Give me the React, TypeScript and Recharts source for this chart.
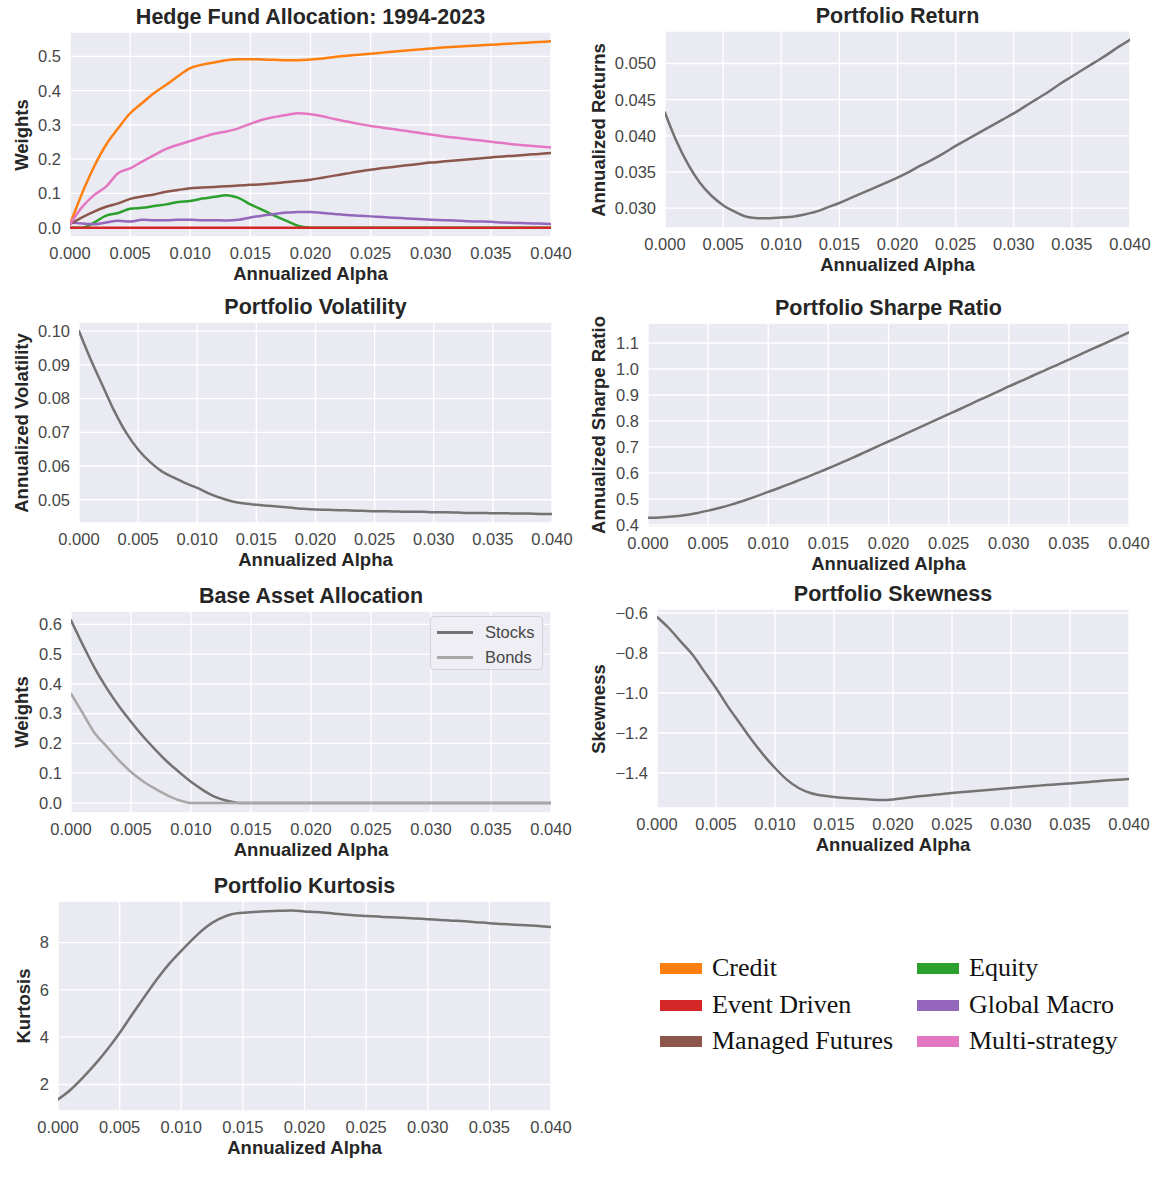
import React from 'react';
import { LineChart, Line, XAxis, YAxis, CartesianGrid } from 'recharts';

// ---------- data ----------
const ALPHA = [0.000, 0.001, 0.002, 0.003, 0.004, 0.005, 0.006, 0.007, 0.008, 0.009, 0.010,
  0.011, 0.012, 0.013, 0.014, 0.015, 0.016, 0.017, 0.018, 0.019, 0.020,
  0.021, 0.022, 0.023, 0.024, 0.025, 0.026, 0.027, 0.028, 0.029, 0.030,
  0.031, 0.032, 0.033, 0.034, 0.035, 0.036, 0.037, 0.038, 0.039, 0.040];

const X_TICKS = [0, 0.005, 0.01, 0.015, 0.02, 0.025, 0.03, 0.035, 0.04];

const CREDIT = [0.01, 0.10, 0.178, 0.242, 0.29, 0.334, 0.364, 0.393, 0.417, 0.443, 0.466,
  0.476, 0.482, 0.489, 0.492, 0.492, 0.491, 0.490, 0.489, 0.489, 0.491,
  0.494, 0.498, 0.502, 0.505, 0.508, 0.511, 0.514, 0.517, 0.520, 0.523,
  0.526, 0.528, 0.530, 0.532, 0.534, 0.536, 0.538, 0.540, 0.542, 0.544];
const EQUITY = [0, 0, 0.015, 0.035, 0.043, 0.055, 0.058, 0.063, 0.068, 0.075, 0.078,
  0.085, 0.09, 0.095, 0.087, 0.068, 0.052, 0.035, 0.02, 0.005, 0,
  0, 0, 0, 0, 0, 0, 0, 0, 0, 0,
  0, 0, 0, 0, 0, 0, 0, 0, 0, 0];
const EVENT_DRIVEN = [0, 0, 0, 0, 0, 0, 0, 0, 0, 0, 0,
  0, 0, 0, 0, 0, 0, 0, 0, 0, 0,
  0, 0, 0, 0, 0, 0, 0, 0, 0, 0,
  0, 0, 0, 0, 0, 0, 0, 0, 0, 0];
const GLOBAL_MACRO = [0.015, 0.012, 0.01, 0.015, 0.02, 0.018, 0.023, 0.022, 0.022, 0.023, 0.023,
  0.022, 0.022, 0.021, 0.023, 0.03, 0.035, 0.04, 0.044, 0.046, 0.046,
  0.043, 0.04, 0.037, 0.035, 0.033, 0.031, 0.029, 0.027, 0.025, 0.023,
  0.022, 0.021, 0.019, 0.018, 0.017, 0.015, 0.014, 0.013, 0.012, 0.011];
const MANAGED_FUTURES = [0.01, 0.03, 0.047, 0.061, 0.071, 0.084, 0.091, 0.097, 0.105, 0.11, 0.115,
  0.117, 0.119, 0.121, 0.123, 0.125, 0.127, 0.13, 0.133, 0.136, 0.14,
  0.146, 0.152, 0.158, 0.164, 0.169, 0.174, 0.178, 0.182, 0.186, 0.19,
  0.193, 0.196, 0.199, 0.202, 0.205, 0.208, 0.21, 0.213, 0.215, 0.218];
const MULTI_STRATEGY = [0.01, 0.06, 0.095, 0.12, 0.159, 0.173, 0.193, 0.212, 0.23, 0.242, 0.253,
  0.264, 0.274, 0.281, 0.29, 0.303, 0.315, 0.323, 0.329, 0.334, 0.331,
  0.325, 0.317, 0.31, 0.303, 0.297, 0.292, 0.287, 0.282, 0.277, 0.272,
  0.267, 0.263, 0.259, 0.255, 0.251, 0.247, 0.243, 0.24, 0.237, 0.234];

const RETURNS = [0.0432, 0.0392, 0.036, 0.0335, 0.0317, 0.0304, 0.0295, 0.0288, 0.0286, 0.0286, 0.0287,
  0.0288, 0.0291, 0.0295, 0.0301, 0.0307, 0.0314, 0.0321, 0.0328, 0.0335, 0.0342,
  0.035, 0.0359, 0.0367, 0.0376, 0.0386, 0.0395, 0.0404, 0.0413, 0.0422, 0.0431,
  0.0441, 0.0451, 0.0461, 0.0472, 0.0482, 0.0492, 0.0502, 0.0512, 0.0523, 0.0533];
const VOLATILITY = [0.100, 0.0915, 0.0838, 0.0762, 0.0698, 0.0649, 0.0612, 0.0584, 0.0566, 0.0549, 0.0535,
  0.0518, 0.0505, 0.0495, 0.0489, 0.0485, 0.0482, 0.0479, 0.0476, 0.0473, 0.0471,
  0.047, 0.0469, 0.0468, 0.0467, 0.0466, 0.0466, 0.0465, 0.0464, 0.0464, 0.0463,
  0.0463, 0.0462, 0.0461, 0.0461, 0.046, 0.046, 0.0459, 0.0459, 0.0458, 0.0458];
const SHARPE = [0.428, 0.429, 0.432, 0.437, 0.445, 0.455, 0.466, 0.479, 0.494, 0.51, 0.527,
  0.544, 0.562, 0.58, 0.599, 0.618, 0.638, 0.658, 0.679, 0.7, 0.721,
  0.742, 0.763, 0.784, 0.805, 0.826, 0.847, 0.869, 0.89, 0.911, 0.933,
  0.953, 0.974, 0.995, 1.015, 1.036, 1.057, 1.078, 1.099, 1.12, 1.141];
const STOCKS = [0.614, 0.53, 0.451, 0.384, 0.325, 0.273, 0.224, 0.18, 0.139, 0.104, 0.071,
  0.043, 0.02, 0.007, 0, 0, 0, 0, 0, 0, 0,
  0, 0, 0, 0, 0, 0, 0, 0, 0, 0,
  0, 0, 0, 0, 0, 0, 0, 0, 0, 0];
const BONDS = [0.367, 0.3, 0.233, 0.188, 0.143, 0.104, 0.073, 0.048, 0.026, 0.009, 0,
  0, 0, 0, 0, 0, 0, 0, 0, 0, 0,
  0, 0, 0, 0, 0, 0, 0, 0, 0, 0,
  0, 0, 0, 0, 0, 0, 0, 0, 0, 0];
const SKEWNESS = [-0.62, -0.675, -0.742, -0.808, -0.892, -0.975, -1.067, -1.15, -1.233, -1.308, -1.375,
  -1.433, -1.475, -1.5, -1.513, -1.52, -1.525, -1.529, -1.532, -1.535, -1.532,
  -1.525, -1.518, -1.512, -1.506, -1.5, -1.495, -1.49, -1.485, -1.48, -1.475,
  -1.47, -1.465, -1.46, -1.456, -1.452, -1.448, -1.443, -1.438, -1.434, -1.43];
const KURTOSIS = [1.37, 1.77, 2.28, 2.85, 3.48, 4.18, 4.95, 5.7, 6.43, 7.09, 7.65,
  8.18, 8.65, 8.98, 9.19, 9.26, 9.3, 9.33, 9.35, 9.36, 9.32,
  9.29, 9.25, 9.2, 9.16, 9.13, 9.1, 9.07, 9.05, 9.02, 8.99,
  8.96, 8.93, 8.9, 8.86, 8.82, 8.79, 8.76, 8.73, 8.7, 8.66];

const HF_NAMES = ['Credit', 'Equity', 'Event Driven', 'Global Macro', 'Managed Futures', 'Multi-strategy'];
const HF_KEYS = ['credit', 'equity', 'eventDriven', 'globalMacro', 'managedFutures', 'multiStrategy'];
const HF_COLORS = ['#ff7f0e', '#2ca02c', '#d62728', '#9467bd', '#8c564b', '#e377c2'];
const HF_SERIES = [CREDIT, EQUITY, EVENT_DRIVEN, GLOBAL_MACRO, MANAGED_FUTURES, MULTI_STRATEGY];

// ---------- tables ----------
const hfData = ALPHA.map((x, i) => {
  const row: any = { x };
  HF_KEYS.forEach((k, j) => { row[k] = HF_SERIES[j][i]; });
  return row;
});
const single = (arr: number[]) => ALPHA.map((x, i) => ({ x, v: arr[i] }));
const baseData = ALPHA.map((x, i) => ({ x, stocks: STOCKS[i], bonds: BONDS[i] }));

// ---------- style ----------
const FONT = '"Liberation Sans", Arial, Helvetica, sans-serif';
const BG = '#EAEAF2';
const TEXT = '#262626';
const TICK = '#474747';
const GREY = '#737373';
const LIGHT = '#a8a8a8';

const YW = 80;
const PAD_T = 6;
const PAD_R = 34;
const XH = 40;

const fmt = (d: number) => (v: number) => (v < 0 ? '\u2212' : '') + Math.abs(v).toFixed(d);

type LineSpec = { key: string; color: string };
type PanelSpec = {
  title: string;
  ylabel: string;
  left: number; top: number; right: number; bottom: number;
  yDomain: [number, number];
  yTicks: number[];
  yFmt: (v: number) => string;
  data: any[];
  lines: LineSpec[];
};

const PANELS: PanelSpec[] = [
  {
    title: 'Hedge Fund Allocation: 1994-2023', ylabel: 'Weights',
    left: 70, top: 32, right: 551, bottom: 237,
    yDomain: [-0.0272, 0.5712], yTicks: [0, 0.1, 0.2, 0.3, 0.4, 0.5], yFmt: fmt(1),
    data: hfData, lines: HF_KEYS.map((k, j) => ({ key: k, color: HF_COLORS[j] })),
  },
  {
    title: 'Portfolio Return', ylabel: 'Annualized Returns',
    left: 665, top: 31, right: 1130, bottom: 228,
    yDomain: [0.02724, 0.0545], yTicks: [0.03, 0.035, 0.04, 0.045, 0.05], yFmt: fmt(3),
    data: single(RETURNS), lines: [{ key: 'v', color: GREY }],
  },
  {
    title: 'Portfolio Volatility', ylabel: 'Annualized Volatility',
    left: 79, top: 322, right: 552, bottom: 523,
    yDomain: [0.0431, 0.1027], yTicks: [0.05, 0.06, 0.07, 0.08, 0.09, 0.1], yFmt: fmt(2),
    data: single(VOLATILITY), lines: [{ key: 'v', color: GREY }],
  },
  {
    title: 'Portfolio Sharpe Ratio', ylabel: 'Annualized Sharpe Ratio',
    left: 648, top: 323, right: 1129, bottom: 527,
    yDomain: [0.392, 1.177], yTicks: [0.4, 0.5, 0.6, 0.7, 0.8, 0.9, 1.0, 1.1], yFmt: fmt(1),
    data: single(SHARPE), lines: [{ key: 'v', color: GREY }],
  },
  {
    title: 'Base Asset Allocation', ylabel: 'Weights',
    left: 71, top: 611, right: 551, bottom: 813,
    yDomain: [-0.034, 0.645], yTicks: [0, 0.1, 0.2, 0.3, 0.4, 0.5, 0.6], yFmt: fmt(1),
    data: baseData, lines: [{ key: 'stocks', color: GREY }, { key: 'bonds', color: LIGHT }],
  },
  {
    title: 'Portfolio Skewness', ylabel: 'Skewness',
    left: 657, top: 609, right: 1129, bottom: 808,
    yDomain: [-1.575, -0.58], yTicks: [-1.4, -1.2, -1.0, -0.8, -0.6], yFmt: fmt(1),
    data: single(SKEWNESS), lines: [{ key: 'v', color: GREY }],
  },
  {
    title: 'Portfolio Kurtosis', ylabel: 'Kurtosis',
    left: 58, top: 901, right: 551, bottom: 1111,
    yDomain: [0.88, 9.76], yTicks: [2, 4, 6, 8], yFmt: fmt(0),
    data: single(KURTOSIS), lines: [{ key: 'v', color: GREY }],
  },
];

const YLABEL_X = [22, 599, 22, 599, 22, 599, 24];

function Panel({ p, ylx }: { p: PanelSpec; ylx: number }) {
  const pw = p.right - p.left;
  const ph = p.bottom - p.top;
  const cx = (p.left + p.right) / 2;
  const cy = (p.top + p.bottom) / 2;
  return (
    <>
      <div style={{ position: 'absolute', left: p.left - YW, top: p.top - PAD_T }}>
        <LineChart
          width={YW + pw + PAD_R}
          height={PAD_T + ph + XH}
          data={p.data}
          margin={{ top: PAD_T, right: PAD_R, bottom: 0, left: 0 }}
        >
          <CartesianGrid fill={BG} fillOpacity={1} stroke="#ffffff" strokeWidth={1.3} />
          <XAxis
            dataKey="x" type="number" domain={[0, 0.04]} ticks={X_TICKS} interval={0}
            tickFormatter={(v: number) => v.toFixed(3)}
            axisLine={false} tickLine={false} tickSize={0} tickMargin={10} height={XH}
            tick={{ fontSize: 16.5, fill: TICK, fontFamily: FONT }} allowDataOverflow
          />
          <YAxis
            type="number" domain={p.yDomain} ticks={p.yTicks} interval={0}
            tickFormatter={p.yFmt}
            axisLine={false} tickLine={false} tickSize={0} tickMargin={9} width={YW}
            tick={{ fontSize: 16.5, fill: TICK, fontFamily: FONT }} allowDataOverflow
          />
          {p.lines.map((l) => (
            <Line
              key={l.key} dataKey={l.key} type="monotone" stroke={l.color} strokeWidth={2.5}
              dot={false} activeDot={false} isAnimationActive={false} strokeLinejoin="round" strokeLinecap="round"
            />
          ))}
        </LineChart>
      </div>
      <div style={{
        position: 'absolute', left: cx - 300, width: 600, top: p.top - 25.5, height: 21,
        textAlign: 'center', fontSize: 21.5, lineHeight: '21px', fontWeight: 700, color: TEXT, fontFamily: FONT,
      }}>{p.title}</div>
      <div style={{
        position: 'absolute', left: cx - 300, width: 600, top: p.bottom + 28, height: 18,
        textAlign: 'center', fontSize: 18.5, lineHeight: '18px', fontWeight: 700, color: TEXT, fontFamily: FONT,
      }}>Annualized Alpha</div>
      <div style={{
        position: 'absolute', left: ylx - 150, width: 300, top: cy - 9, height: 18,
        textAlign: 'center', fontSize: 18.5, lineHeight: '18px', fontWeight: 700, color: TEXT, fontFamily: FONT,
        transform: 'rotate(-90deg)', transformOrigin: '50% 50%', whiteSpace: 'nowrap',
      }}>{p.ylabel}</div>
    </>
  );
}

const BASE_LEGEND = [{ name: 'Stocks', color: GREY }, { name: 'Bonds', color: LIGHT }];
const HF_LEGEND_ORDER = [0, 2, 4, 1, 3, 5]; // column-major placement
const HF_LEGEND_COL_X = [660, 917];
const HF_LEGEND_ROW_Y = [968, 1005, 1041];

export default function App() {
  return (
    <div style={{ position: 'absolute', left: 0, top: 0, width: 1158, height: 1187, background: '#fff', overflow: 'hidden' }}>
      {PANELS.map((p, i) => <Panel key={i} p={p} ylx={YLABEL_X[i]} />)}

      {/* legend inside Base Asset Allocation */}
      <div style={{
        position: 'absolute', left: 430, top: 616, width: 113, height: 54, boxSizing: 'border-box',
        background: '#EEEEF4', border: '1px solid #D2D2D8', borderRadius: 4,
      }}>
        {BASE_LEGEND.map((b, i) => (
          <div key={b.name} style={{ position: 'absolute', left: 6, top: 6 + i * 25, height: 18, width: 105 }}>
            <div style={{ position: 'absolute', left: 0, top: 8, width: 36, height: 2.5, background: b.color }} />
            <div style={{ position: 'absolute', left: 48, top: 0, fontSize: 16.5, lineHeight: '18px', color: TICK, fontFamily: FONT }}>{b.name}</div>
          </div>
        ))}
      </div>

      {/* hedge fund legend (bottom right) */}
      {HF_NAMES.map((n, j) => {
        const k = HF_LEGEND_ORDER.indexOf(j);
        const x = HF_LEGEND_COL_X[Math.floor(k / 3)];
        const y = HF_LEGEND_ROW_Y[k % 3];
        return (
          <div key={n} style={{ position: 'absolute', left: x, top: y - 14, height: 28 }}>
            <div style={{ position: 'absolute', left: 0, top: 9, width: 42, height: 11, background: HF_COLORS[j] }} />
            <div style={{
              position: 'absolute', left: 52, top: 0, whiteSpace: 'nowrap',
              fontFamily: '"Liberation Serif", "DejaVu Serif", serif', fontSize: 26, lineHeight: '28px', color: '#111',
            }}>{n}</div>
          </div>
        );
      })}
    </div>
  );
}
